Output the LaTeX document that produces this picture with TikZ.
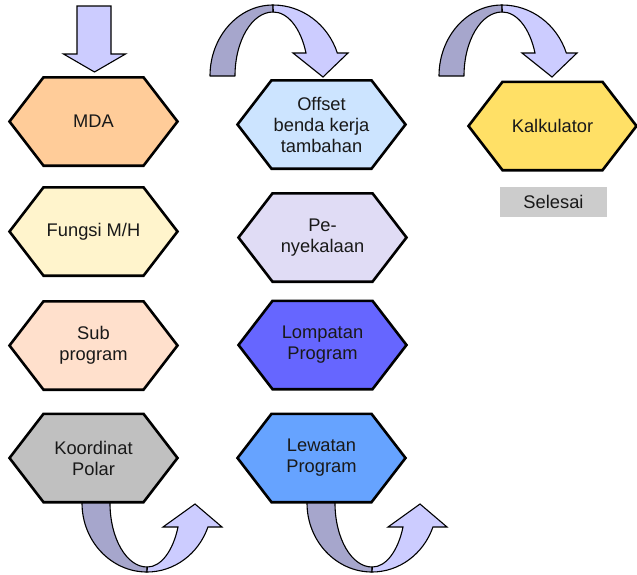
\documentclass[tikz,border=0pt]{standalone}
\usepackage{fontspec}
\setmainfont{Liberation Sans}
\definecolor{bandDark}{HTML}{A6A6CC}
\definecolor{bandLight}{HTML}{CCCCFF}
\definecolor{cMDA}{HTML}{FFCC99}
\definecolor{cFungsi}{HTML}{FFF4CC}
\definecolor{cSub}{HTML}{FFE0CC}
\definecolor{cPolar}{HTML}{C0C0C0}
\definecolor{cOffset}{HTML}{CCE4FF}
\definecolor{cSkala}{HTML}{E0DCF5}
\definecolor{cLompat}{HTML}{6666FF}
\definecolor{cLewat}{HTML}{66A3FF}
\definecolor{cKalk}{HTML}{FFE066}
\definecolor{cSelesai}{HTML}{CCCCCC}

% hexagonal step: name, centre x, centre y, fill, label
\newcommand{\hexstep}[5]{%
  \path[hexline, fill=#4] (#2-84,#3) -- (#2-50,#3-44.2) -- (#2+50,#3-44.2)
    -- (#2+84,#3) -- (#2+50,#3+44.2) -- (#2-50,#3+44.2) -- cycle;
  \node[hexlabel] (#1) at (#2,#3) {#5};}

% ribbon arrow curving over the top, shifted right by #1
\newcommand{\overarrow}[1]{%
  \begin{scope}[xshift=#1pt]
    \path[bandback] (210,76) arc[start angle=180,end angle=90,x radius=63pt,y radius=71pt]
      -- (273,12) arc[start angle=90,end angle=180,x radius=38pt,y radius=64pt] -- cycle;
    \path[bandfront] (273,5) arc[start angle=90,end angle=18.9,x radius=68pt,y radius=71pt]
      -- (348,53) -- (323,77) -- (293,53) -- (306,53)
      arc[start angle=21.06,end angle=90,x radius=35pt,y radius=64pt] -- cycle;
  \end{scope}}

% ribbon arrow curving under a step, shifted right by #1
\newcommand{\underarrow}[1]{%
  \begin{scope}[xshift=#1pt]
    \path[bandback] (82,495) -- (82,503) arc[start angle=180,end angle=270,x radius=65pt,y radius=69pt]
      -- (147,567) arc[start angle=270,end angle=180,x radius=37pt,y radius=64pt] -- (110,495) -- cycle;
    \path[bandfront] (147,572) arc[start angle=-90,end angle=-20.35,x radius=65pt,y radius=69pt]
      -- (222,527) -- (195,504) -- (163,527) -- (178,527)
      arc[start angle=-22.02,end angle=-90,x radius=33pt,y radius=64pt] -- cycle;
  \end{scope}}

\begin{document}
\begin{tikzpicture}[x=1pt,y=-1pt,
  hexline/.style={draw=black, line width=2.6pt, line join=miter},
  hexlabel/.style={align=center, font=\fontsize{18.3}{21}\selectfont, text=black!90, inner sep=0pt},
  bandback/.style={draw=black, line width=1.1pt, fill=bandDark, line join=round},
  bandfront/.style={draw=black, line width=1.1pt, fill=bandLight, line join=miter},
]
\useasboundingbox (0,0) rectangle (637,574);

% ribbons first, so the steps sit on top of them
\path[bandfront] (77,6) -- (111,6) -- (111,54) -- (125.5,54) -- (94.5,72) -- (63.5,54) -- (77,54) -- cycle;
\overarrow{0}
\overarrow{229}
\underarrow{0}
\underarrow{225}

% first column
\hexstep{mda}{93.5}{121.5}{cMDA}{MDA}
\hexstep{fungsi}{93.5}{231.5}{cFungsi}{Fungsi M/H}
\hexstep{sub}{93.5}{345.5}{cSub}{Sub\\program}
\hexstep{polar}{93.5}{458}{cPolar}{Koordinat\\Polar}

% second column
\hexstep{offset}{321.5}{124.5}{cOffset}{Offset\\benda kerja\\tambahan}
\hexstep{skala}{322.5}{237.5}{cSkala}{Pe-\\nyekalaan}
\hexstep{lompat}{322.5}{345}{cLompat}{Lompatan\\Program}
\hexstep{lewat}{321.5}{458}{cLewat}{Lewatan\\Program}

% third column
\hexstep{kalk}{552.5}{126}{cKalk}{Kalkulator}
\node[fill=cSelesai, minimum width=107pt, minimum height=30pt, inner sep=0pt,
      font=\fontsize{18.3}{21}\selectfont, text=black!90] (selesai) at (553.5,202) {Selesai};
\end{tikzpicture}
\end{document}
